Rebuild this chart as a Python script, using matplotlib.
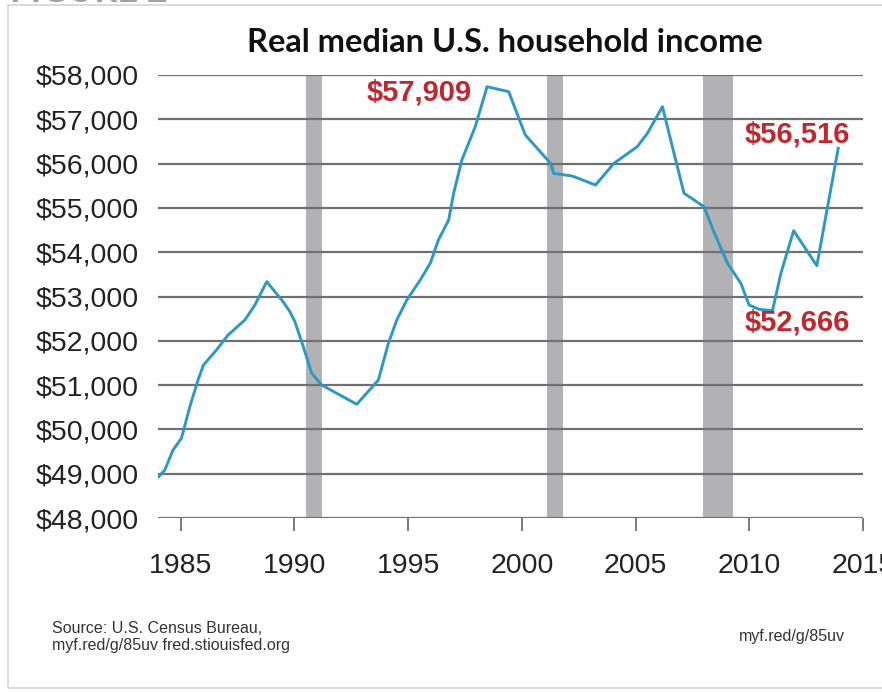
import matplotlib
matplotlib.use("Agg")
import matplotlib.pyplot as plt
from matplotlib.patches import Rectangle
from matplotlib.ticker import FuncFormatter

# ---- data ----
years = [1984.03, 1984.3, 1984.66, 1985.03, 1985.4, 1985.76, 1986.0, 1986.57,
         1987.08, 1987.82, 1988.26, 1988.78, 1989.5, 1989.8, 1990.02, 1990.39,
         1990.76, 1991.2, 1992.74, 1993.69, 1994.13, 1994.5, 1994.94, 1995.53,
         1995.97, 1996.33, 1996.78, 1997.0, 1997.36, 1997.95, 1998.47, 1999.42,
         2000.15, 2001.26, 2001.40, 2002.21, 2003.24, 2004.05, 2005.07, 2005.52,
         2006.18, 2006.69, 2007.13, 2008.01, 2008.41, 2009.04, 2009.63, 2009.99,
         2010.43, 2011.02, 2011.39, 2011.95, 2012.97, 2013.91]
income = [48932, 49084, 49535, 49800, 50513, 51115, 51454, 51792,
          52130, 52470, 52808, 53335, 52883, 52657, 52431, 51866,
          51266, 51000, 50567, 51115, 51944, 52470, 52920, 53372,
          53750, 54275, 54727, 55330, 56081, 56833, 57736, 57623,
          56646, 56007, 55781, 55720, 55517, 56007, 56381, 56684,
          57285, 56232, 55330, 55027, 54501, 53750, 53298, 52808,
          52711, 52681, 53524, 54486, 53695, 56344]

recession_start = [1990.5, 2001.1, 2007.95]
recession_end = [1991.2, 2001.8, 2009.27]

annot_text = ["$57,909", "$56,516", "$52,666"]
annot_x = [1997.8, 2012.13, 2012.13]
annot_y = [57594, 56646, 52402]
annot_ha = ["right", "center", "center"]

x_ticks = [1985, 1990, 1995, 2000, 2005, 2010, 2015]
y_ticks = list(range(48000, 58001, 1000))

title = "Real median U.S. household income"
source = "Source: U.S. Census Bureau,\nmyf.red/g/85uv fred.stiouisfed.org"
link = "myf.red/g/85uv"

# ---- styling ----
LINE = "#2b98c6"
BAR = "#b2b2b4"
GRID = "#707070"
RED = "#c1272d"
TXT = "#222222"
FONT = ["Liberation Sans", "DejaVu Sans"]

W, H = 882, 692
fig = plt.figure(figsize=(W / 100, H / 100), dpi=100)
fig.patch.set_facecolor("white")

# outer frame
fig.patches.append(Rectangle((8 / W, 1 - 688 / H), 1.0, (688 - 5) / H,
                             transform=fig.transFigure, fill=False,
                             edgecolor="#d6d6d6", linewidth=1.2))
fig.text(10 / W, 1 - 1.5 / H, "FIGURE 2", fontsize=26, fontweight="bold",
         color="#a0a0a0", family=["Lato", "DejaVu Sans"], ha="left", va="baseline")

ax = fig.add_axes([158 / W, 1 - 518 / H, (863 - 158) / W, (518 - 75) / H])
ax.set_xlim(1984, 2015)
ax.set_ylim(48000, 58000)

for s, e in zip(recession_start, recession_end):
    ax.axvspan(s, e, color=BAR, lw=0, zorder=1)

for yv in y_ticks:
    ax.axhline(yv, color=GRID, lw=1.6, zorder=2)

ax.plot(years, income, color=LINE, lw=2.1, zorder=3, solid_joinstyle="round")

for t, xv, yv, ha in zip(annot_text, annot_x, annot_y, annot_ha):
    ax.text(xv, yv, t, color=RED, fontsize=21, fontweight="bold",
            family=FONT, ha=ha, va="center", zorder=4)

for sp in ax.spines.values():
    sp.set_visible(False)

ax.set_xticks(x_ticks)
ax.set_xticklabels([str(v) for v in x_ticks])
ax.set_yticks(y_ticks)
ax.yaxis.set_major_formatter(FuncFormatter(lambda v, p: f"${int(v):,}"))
ax.tick_params(axis="x", length=9, width=1.3, color=GRID, pad=16,
               labelsize=20.5, labelcolor=TXT)
ax.tick_params(axis="y", length=0, pad=14, labelsize=20.5, labelcolor=TXT)
for lab in ax.get_xticklabels() + ax.get_yticklabels():
    lab.set_family(FONT)
    lab.set_clip_on(False)

fig.text(505 / W, 1 - 42 / H, title, fontsize=23.5, fontweight="bold",
         color="#111111", family=["Lato", "DejaVu Sans"], ha="center", va="center")

fig.text(52 / W, 1 - 637 / H, source, fontsize=11.5, color="#333333",
         family=FONT, ha="left", va="center", linespacing=1.15)
fig.text(845 / W, 1 - 637 / H, link, fontsize=11.5, color="#333333",
         family=FONT, ha="right", va="center")

fig.savefig("out.png", dpi=100, facecolor="white")
